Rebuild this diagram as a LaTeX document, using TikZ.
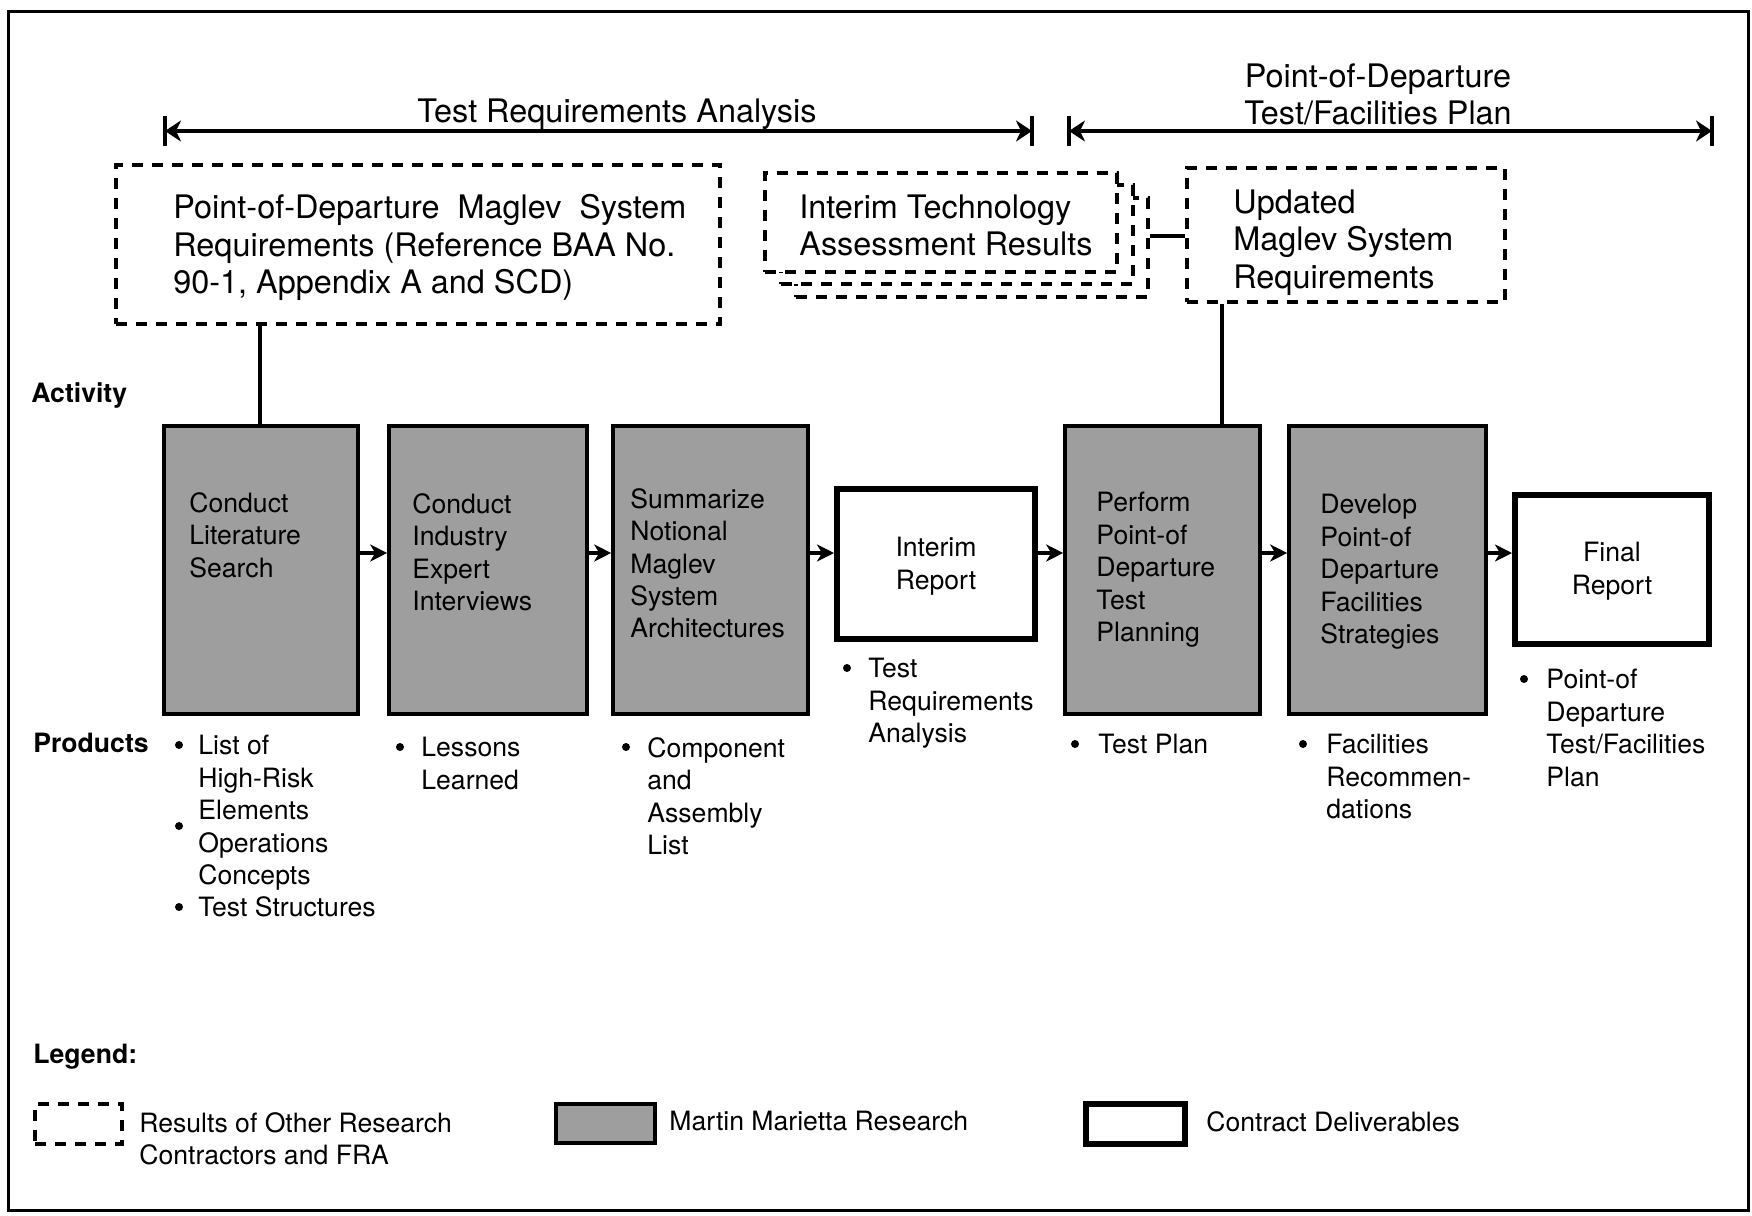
\documentclass[tikz,border=0pt]{standalone}
\usepackage{fontspec}
\setmainfont{TeX Gyre Heros}
\usetikzlibrary{arrows.meta,fit}
\newcommand\fsBig{\fontsize{16.2pt}{18.8pt}\selectfont}
\newcommand\fsSmall{\fontsize{13.3pt}{16.2pt}\selectfont}
\begin{document}
\begin{tikzpicture}[x=0.5pt,y=-0.5pt,
  frame/.style={line width=1.5pt},
  otherwork/.style={draw, line width=2.3pt, dash pattern=on 5.5pt off 4.5pt, fill=white, inner sep=0pt},
  research/.style={draw, line width=1.8pt, fill=black!38, inner sep=0pt},
  deliverable/.style={draw, line width=3pt, fill=white, inner sep=0pt},
  link/.style={line width=1.6pt},
  flow/.style={line width=1.6pt, -{Stealth[length=8.5pt,width=8.5pt,inset=2.5pt]}},
  span/.style={line width=1.6pt, {Stealth[length=8pt,width=10.5pt,inset=2.5pt]}-{Stealth[length=8pt,width=10.5pt,inset=2.5pt]}},
  spanbar/.style={line width=1.6pt},
  bigtxt/.style={font=\fsBig, inner sep=0pt, align=left},
  smalltxt/.style={font=\fsSmall, inner sep=0pt, align=left},
  headtxt/.style={font=\fsSmall\bfseries, inner sep=0pt, align=left},
  bul/.style={circle, fill=black, inner sep=0pt, minimum size=4pt}
]
\useasboundingbox (0,0) rectangle (1752,1216);
\draw[frame] (8,11) rectangle (1748,1210);

% phase spans across the top
\node[bigtxt, anchor=north, align=center] (tra) at (617,98) {Test Requirements Analysis};
\node[bigtxt, anchor=north, align=center] (pdp) at (1378,63) {Point-of-Departure\\Test/Facilities Plan};
\coordinate (s1a) at (165,131);
\coordinate (s1b) at (1032,131);
\coordinate (s2a) at (1069,131);
\coordinate (s2b) at (1712,131);
\draw[span] (s1a) -- (s1b);
\draw[span] (s2a) -- (s2b);
\foreach \p in {s1a,s1b,s2a,s2b}
  \draw[spanbar] ([yshift=7.5pt]\p) -- ([yshift=-7.5pt]\p);

% inputs from other contractors
\node[otherwork, fit={(116,165)(720,324)}] (pod) {};
\node[bigtxt, anchor=north west] (podt) at (173,194)
  {\makebox[256.5pt][s]{Point-of-Departure Maglev System}\\Requirements (Reference BAA No.\\90-1, Appendix A and SCD)};

\node[otherwork, fit={(796,198)(1148,297)}] (itb) {};
\node[otherwork, fit={(781,185)(1133,284)}] (itm) {};
\node[otherwork, fit={(765,173)(1117,272)}] (itf) {};
\node[bigtxt, anchor=north west] (itt) at (799,194) {Interim Technology\\Assessment Results};

\node[otherwork, fit={(1187,168)(1505,302)}] (upd) {};
\node[bigtxt, anchor=north west] (updt) at (1233,189) {Updated\\Maglev System\\Requirements};

% row labels
\node[headtxt, anchor=north west] (act) at (31,382) {Activity};
\node[headtxt, anchor=north west] (prd) at (33,733) {Products};

% activities and deliverables
\node[research, fit={(164,426)(358,714)}] (b1) {};
\node[research, fit={(389,426)(587,714)}] (b2) {};
\node[research, fit={(613,426)(808,714)}] (b3) {};
\node[deliverable, fit={(837,489)(1035,639)}] (ir) {};
\node[research, fit={(1065,426)(1260,714)}] (b5) {};
\node[research, fit={(1289,426)(1486,714)}] (b6) {};
\node[deliverable, fit={(1515,495)(1709,644)}] (fr) {};

\node[smalltxt, anchor=north west] (b1t) at (189,492) {Conduct\\Literature\\Search};
\node[smalltxt, anchor=north west] (b2t) at (412,493) {Conduct\\Industry\\Expert\\Interviews};
\node[smalltxt, anchor=north west] (b3t) at (630,488) {Summarize\\Notional\\Maglev\\System\\Architectures};
\node[smalltxt, anchor=north, align=center] (irt) at (936,537) {Interim\\Report};
\node[smalltxt, anchor=north west] (b5t) at (1096,492) {Perform\\Point-of\\Departure\\Test\\Planning};
\node[smalltxt, anchor=north west] (b6t) at (1320,494) {Develop\\Point-of\\Departure\\Facilities\\Strategies};
\node[smalltxt, anchor=north, align=center] (frt) at (1612,542) {Final\\Report};

% connectors
\coordinate (j1) at (260,0);
\coordinate (j2) at (1222,0);
\coordinate (linkrow) at (0,236);
\coordinate (flowrow) at (0,553);
\draw[link] (pod.south -| j1) -- (b1.north -| j1);
\draw[link] (upd.south -| j2) -- (b5.north -| j2);
\draw[link] (itb.east |- linkrow) -- (upd.west |- linkrow);
\draw[flow] (b1.east |- flowrow) -- (b2.west |- flowrow);
\draw[flow] (b2.east |- flowrow) -- (b3.west |- flowrow);
\draw[flow] (b3.east |- flowrow) -- (ir.west |- flowrow);
\draw[flow] (ir.east |- flowrow) -- (b5.west |- flowrow);
\draw[flow] (b5.east |- flowrow) -- (b6.west |- flowrow);
\draw[flow] (b6.east |- flowrow) -- (fr.west |- flowrow);

% products
\node[bul] (p1a) at (179,745) {};
\node[bul] (p1b) at (179,826) {};
\node[bul] (p1c) at (179,907) {};
\node[smalltxt, anchor=north west] (p1) at (198,735) {List of\\High-Risk\\Elements\\Operations\\Concepts\\Test Structures};
\node[bul] (p2a) at (400,747) {};
\node[smalltxt, anchor=north west] (p2) at (421,737) {Lessons\\Learned};
\node[bul] (p3a) at (626,747) {};
\node[smalltxt, anchor=north west] (p3) at (647,737) {Component\\and\\Assembly\\List};
\node[bul] (p4a) at (847,668) {};
\node[smalltxt, anchor=north west] (p4) at (868,658) {Test\\Requirements\\Analysis};
\node[bul] (p5a) at (1075,744) {};
\node[smalltxt, anchor=north west] (p5) at (1098,734) {Test Plan};
\node[bul] (p6a) at (1303,744) {};
\node[smalltxt, anchor=north west] (p6) at (1326,734) {Facilities\\Recommen-\\dations};
\node[bul] (p7a) at (1524,679) {};
\node[smalltxt, anchor=north west] (p7) at (1546,669) {Point-of\\Departure\\Test/Facilities\\Plan};

% legend
\node[headtxt, anchor=north west] (leg) at (33,1044) {Legend:};
\node[otherwork, fit={(35,1104)(122,1144)}] (lg1) {};
\node[smalltxt, anchor=north west] (lg1t) at (139,1112) {Results of Other Research\\Contractors and FRA};
\node[research, fit={(556,1104)(655,1143)}] (lg2) {};
\node[smalltxt, anchor=north west] (lg2t) at (669,1111) {Martin Marietta Research};
\node[deliverable, fit={(1086,1104)(1185,1144)}] (lg3) {};
\node[smalltxt, anchor=north west] (lg3t) at (1206,1111) {Contract Deliverables};
\end{tikzpicture}
\end{document}
